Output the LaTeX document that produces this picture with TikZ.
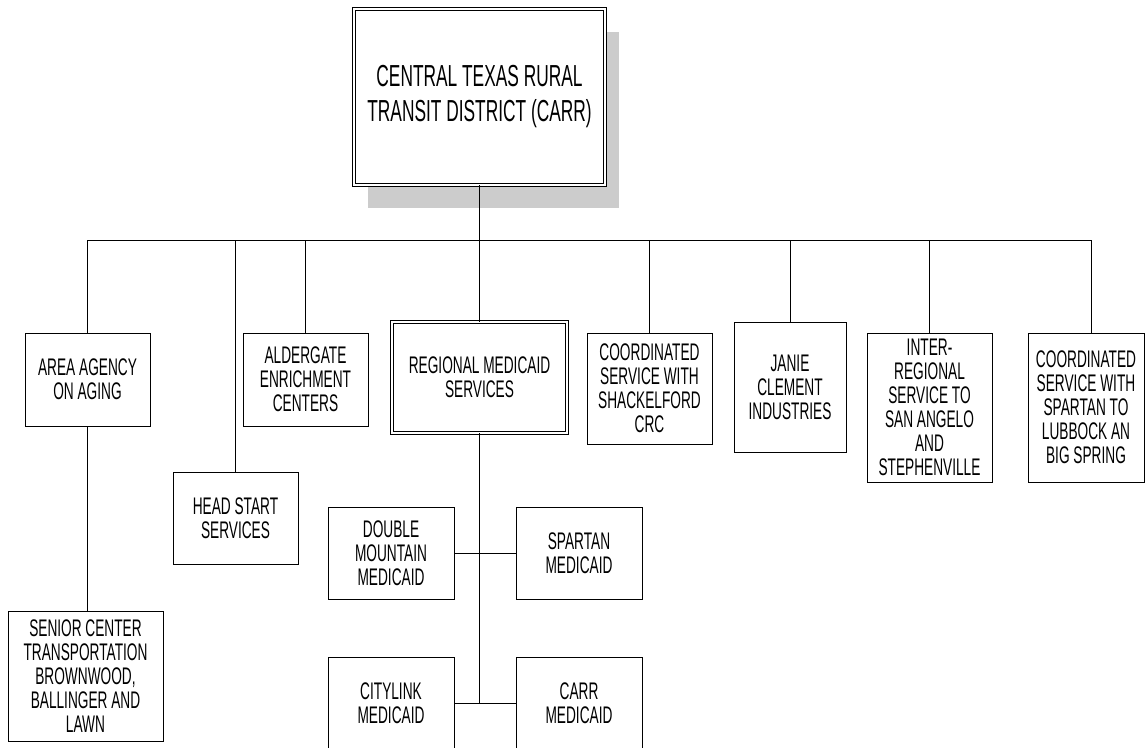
\documentclass[tikz,border=0pt]{standalone}
\usepackage{fontspec}
\newfontfamily\orgfont[FakeStretch=0.57]{Liberation Sans}
\usetikzlibrary{shadows}

\tikzset{
    unit/.style={draw, fill=white, line width=1pt, align=center, inner sep=2pt,
        font=\orgfont\fontsize{24}{24}\selectfont},
    twoline/.style={unit, double, double distance=1.6pt, line width=0.9pt},
    link/.style={line width=1pt}
}

\begin{document}
\begin{tikzpicture}[x=1pt,y=-1pt]

\useasboundingbox (0,0) rectangle (1145,747);
\clip (0,0) rectangle (1145,747);

% District
\node[twoline, minimum width=251pt, minimum height=176pt,
    font=\orgfont\fontsize{30.4}{35}\selectfont,
    drop shadow={shadow xshift=14pt, shadow yshift=-23pt, fill=gray!40, opacity=1}]
    (carr) at (479.5,97) {CENTRAL TEXAS RURAL\\TRANSIT DISTRICT (CARR)};

\coordinate (bus) at (479,240);

% First level
\node[unit, minimum width=125pt, minimum height=93pt]
    (aging) at (87.5,379.5) {AREA AGENCY\\ON AGING};
\node[unit, minimum width=125pt, minimum height=92pt]
    (headstart) at (235.5,518) {HEAD START\\SERVICES};
\node[unit, minimum width=125pt, minimum height=93pt]
    (alder) at (305.5,379.5) {ALDERGATE\\ENRICHMENT\\CENTERS};
\node[twoline, minimum width=175pt, minimum height=111pt]
    (regional) at (479.5,377.5) {REGIONAL MEDICAID\\SERVICES};
\node[unit, minimum width=125pt, minimum height=111pt]
    (shack) at (649.5,388.5) {COORDINATED\\SERVICE WITH\\SHACKELFORD\\CRC};
\node[unit, minimum width=112pt, minimum height=130pt]
    (janie) at (790,387) {JANIE\\CLEMENT\\INDUSTRIES};
\node[unit, minimum width=125pt, minimum height=149pt]
    (inter) at (929.5,407.5)
    {INTER-\\REGIONAL\\SERVICE TO\\SAN ANGELO\\AND\\STEPHENVILLE};
\node[unit, minimum width=116pt, minimum height=149pt]
    (spcoord) at (1086,407.5)
    {COORDINATED\\SERVICE WITH\\SPARTAN TO\\LUBBOCK AN\\BIG SPRING};
\coordinate (spdrop) at ([xshift=5pt]spcoord.north);

% Second level
\node[unit, minimum width=155pt, minimum height=130pt]
    (senior) at (85.5,676)
    {SENIOR CENTER\\TRANSPORTATION\\BROWNWOOD,\\BALLINGER AND\\LAWN};
\node[unit, minimum width=126pt, minimum height=92pt]
    (dmm) at (391,553) {DOUBLE\\MOUNTAIN\\MEDICAID};
\node[unit, minimum width=126pt, minimum height=92pt]
    (spm) at (579,553) {SPARTAN\\MEDICAID};
\node[unit, minimum width=126pt, minimum height=92pt]
    (city) at (391,703) {CITYLINK\\MEDICAID};
\node[unit, minimum width=126pt, minimum height=92pt]
    (carrm) at (579,703) {CARR\\MEDICAID};

% Connectors
\draw[link] (carr.south) -- (carr.south |- bus);
\draw[link] (aging.north |- bus) -- (spdrop |- bus);
\foreach \n in {aging,headstart,alder,regional,shack,janie,inter}
    \draw[link] (\n.north) -- (\n.north |- bus);
\draw[link] (spdrop) -- (spdrop |- bus);
\draw[link] (aging.south) -- (aging.south |- senior.north);
\draw[link] (regional.south) -- (regional.south |- city.east);
\draw[link] (dmm.east) -- (spm.west);
\draw[link] (city.east) -- (carrm.west);

\end{tikzpicture}
\end{document}
